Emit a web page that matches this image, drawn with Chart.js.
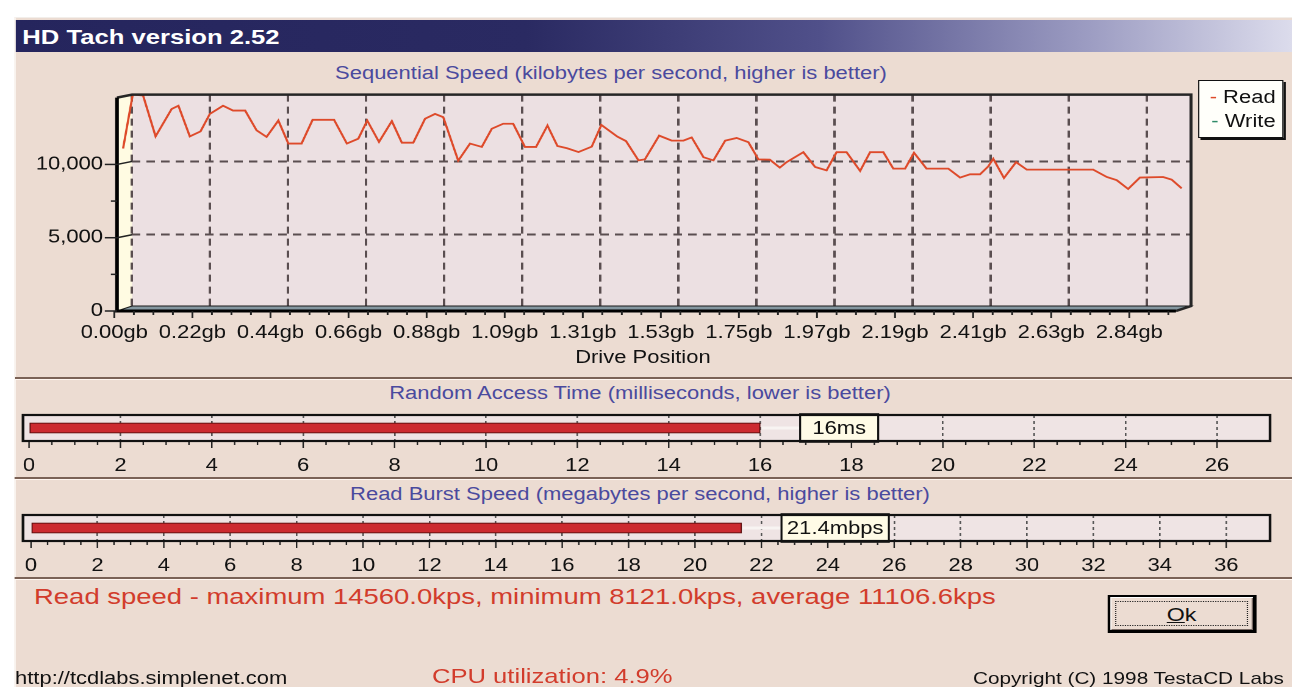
<!DOCTYPE html>
<html>
<head>
<meta charset="utf-8">
<script src="https://cdn.jsdelivr.net/npm/chart.js@4.4.1/dist/chart.umd.min.js"></script>
<style>
html,body{margin:0;padding:0;background:#ffffff;width:1292px;height:687px;overflow:hidden}
#stage{position:absolute;left:0;top:0;width:1059px;height:687px;transform:scaleX(1.22);transform-origin:0 0;font-family:"Liberation Sans",Arial,sans-serif;color:#111}
#win{position:absolute;left:12.3px;top:17px;width:1046.7px;height:670px;background:#ecdcd2;box-sizing:border-box;border-left:1px solid #faf6f2;border-top:1px solid #f2eeea}
#titlebar{position:absolute;left:12.8px;top:20px;width:1046.2px;height:32px;background:linear-gradient(90deg,#25255d 0%,#2a2a62 40%,#50508a 63%,#9c9cc2 84%,#dcdcec 100%)}
#titlebar span{position:absolute;left:5.5px;top:0;line-height:33px;font-weight:bold;font-size:21px;color:#ffffff;white-space:nowrap}
canvas{position:absolute;left:0}
.ptitle{position:absolute;width:700px;text-align:center;font-size:18px;line-height:20px;color:#4a4a9e;white-space:nowrap}
.sep{position:absolute;left:12.3px;width:1046.7px;height:0;border-top:2px solid #7a6256;border-bottom:1px solid #fff6f0}
#legend{position:absolute;left:982px;top:80px;width:69.6px;height:58px;box-sizing:border-box;background:#fffffa;border:1px solid #111;box-shadow:2px 2px 0 #111;font-size:18px;line-height:24px;text-align:right;padding:4px 5px 0 0;color:#111;white-space:nowrap}
#drivepos{position:absolute;left:377px;top:347px;width:300px;text-align:center;font-size:18px;line-height:20px;color:#111}
#stats{position:absolute;left:27.9px;top:585px;font-size:22.5px;line-height:24px;color:#d23c2c;white-space:nowrap}
#okbtn{position:absolute;left:908px;top:595px;width:122px;height:38px;box-sizing:border-box;border:2px solid #000;border-right-width:3px;border-bottom-width:3px;background:#ecdcd2;box-shadow:inset 1px 1px 0 #fff,inset -1px -1px 0 #7a6a64}
#okbtn .focus{position:absolute;left:4px;top:4px;right:4px;bottom:4px;border:1px dotted #222;text-align:center;font-size:19px;line-height:25px;color:#111}
#url{position:absolute;left:12.3px;top:668px;font-size:18px;line-height:20px;color:#111;white-space:nowrap}
#cpu{position:absolute;left:354px;top:664px;font-size:21px;line-height:24px;color:#d23c2c;white-space:nowrap}
#copy{position:absolute;left:797.5px;top:669px;font-size:17px;line-height:20px;color:#111;white-space:nowrap}
</style>
</head>
<body>
<div id="stage">
  <div id="win"></div>
  <div id="titlebar"><span>HD Tach version 2.52</span></div>
  <div class="ptitle" style="left:150.8px;top:63px">Sequential Speed (kilobytes per second, higher is better)</div>
  <canvas id="seq" style="top:60px;width:1059px;height:318px"></canvas>
  <div id="legend"></div>
  <div id="drivepos">Drive Position</div>
  <div class="sep" style="top:377px"></div>
  <div class="ptitle" style="left:174.6px;top:383px">Random Access Time (milliseconds, lower is better)</div>
  <canvas id="acc" style="top:405px;width:1059px;height:72px"></canvas>
  <div class="sep" style="top:477px"></div>
  <div class="ptitle" style="left:174.6px;top:484px">Read Burst Speed (megabytes per second, higher is better)</div>
  <canvas id="burst" style="top:505px;width:1059px;height:72px"></canvas>
  <div class="sep" style="top:577px"></div>
  <div id="stats"></div>
  <div id="okbtn"><div class="focus"><u>O</u>k</div></div>
  <div id="url">http://tcdlabs.simplenet.com</div>
  <div id="cpu"></div>
  <div id="copy">Copyright (C) 1998 TestaCD Labs</div>
</div>
<script>
// ---------- data ----------
const positionsGb = [-0.025,0.002,0.031,0.066,0.111,0.130,0.162,0.192,0.218,0.255,
  0.283,0.317,0.349,0.377,0.410,0.438,0.475,0.506,0.566,0.602,
  0.634,0.659,0.692,0.728,0.756,0.788,0.821,0.849,0.872,0.914,
  0.947,0.980,1.008,1.040,1.068,1.101,1.132,1.164,1.192,1.219,
  1.251,1.288,1.315,1.360,1.384,1.419,1.437,1.477,1.512,1.545,
  1.568,1.601,1.629,1.662,1.694,1.727,1.755,1.787,1.815,1.834,
  1.881,1.914,1.946,1.974,2.002,2.040,2.068,2.105,2.133,2.166,
  2.191,2.226,2.287,2.320,2.348,2.376,2.399,2.413,2.443,2.477,
  2.507,2.693,2.731,2.759,2.791,2.824,2.889,2.913,2.941];
const readKbps = [10880,14560,14500,11710,13580,13800,11710,12050,13240,13800,
  13470,13470,12120,11670,12790,11220,11220,12840,12840,11220,
  11550,12790,11330,12750,11280,11280,12910,13240,13020,10050,
  11220,10990,12230,12570,12570,10990,10990,12450,11050,10900,
  10640,11010,12490,11690,11390,10070,10140,11760,11420,11420,
  11640,10290,10070,11420,11600,11310,10140,10120,9580,9950,
  10630,9620,9390,10630,10630,9350,10630,10630,9510,9510,
  10590,9510,9510,8900,9120,9120,9660,10180,8870,9950,
  9440,9440,8940,8720,8121,8900,8940,8760,8160];
const writeKbps = [];
const seriesNames = ['Read','Write'];
const xTickValues = [0,0.21875,0.4375,0.65625,0.875,1.09375,1.3125,1.53125,1.75,1.96875,2.1875,2.40625,2.625,2.84375];
const xTickLabels = ['0.00gb','0.22gb','0.44gb','0.66gb','0.88gb','1.09gb','1.31gb','1.53gb','1.75gb','1.97gb','2.19gb','2.41gb','2.63gb','2.84gb'];
const yTickValues = [0,5000,10000];
const yTickLabels = ['0','5,000','10,000'];
const accessMs = [16];
const accessTicks = [0,2,4,6,8,10,12,14,16,18,20,22,24,26];
const burstMbps = [21.4];
const burstTicks = [0,2,4,6,8,10,12,14,16,18,20,22,24,26,28,30,32,34,36];
const readStats = [14560.0, 8121.0, 11106.6];
const cpuPercent = [4.9];

// ---------- styles ----------
const FONT = '"Liberation Sans", Arial, sans-serif';
Chart.defaults.font.family = FONT;
const READ_COLOR = '#de4a2a', WRITE_COLOR = '#2e8a68';
const PLOT_BG = '#ece0e2', WALL = '#fffbe2', FLOOR = '#8497a0', GRID = '#5a4e50';
const BOX_BG = '#efe4e4', BAR_RED = '#cc2a30';
const DX = 12.3, DY = 3, LAB_SHIFT = 14.5;

document.getElementById('stats').textContent =
  'Read speed - maximum ' + readStats[0].toFixed(1) + 'kps, minimum ' + readStats[1].toFixed(1) +
  'kps, average ' + readStats[2].toFixed(1) + 'kps';
document.getElementById('cpu').textContent = 'CPU utilization: ' + cpuPercent[0] + '%';

function seg(ctx, x1, y1, x2, y2){ ctx.beginPath(); ctx.moveTo(x1,y1); ctx.lineTo(x2,y2); ctx.stroke(); }

const frame3d = {
  id: 'frame3d',
  beforeDraw(chart){
    const {ctx, chartArea:a} = chart;
    ctx.save();
    ctx.fillStyle = PLOT_BG;
    ctx.fillRect(a.left, a.top, a.right-a.left, a.bottom-a.top);
    ctx.fillStyle = WALL;
    ctx.beginPath();
    ctx.moveTo(a.left-DX, a.top+DY); ctx.lineTo(a.left, a.top);
    ctx.lineTo(a.left, a.bottom); ctx.lineTo(a.left-DX, a.bottom+DY);
    ctx.closePath(); ctx.fill();
    ctx.restore();
  },
  afterDraw(chart){
    const {ctx, chartArea:a, scales:{x, y}} = chart;
    ctx.save();
    // floor
    ctx.fillStyle = FLOOR;
    ctx.beginPath();
    ctx.moveTo(a.left, a.bottom-2); ctx.lineTo(a.right, a.bottom-2);
    ctx.lineTo(a.right-DX, a.bottom+DY); ctx.lineTo(a.left-DX, a.bottom+DY);
    ctx.closePath(); ctx.fill();
    ctx.strokeStyle = '#1a1a1a'; ctx.lineWidth = 1; ctx.stroke();
    // back frame top and right
    ctx.strokeStyle = '#262626'; ctx.lineWidth = 2.5;
    ctx.beginPath();
    ctx.moveTo(a.left-DX, a.top+DY); ctx.lineTo(a.left, a.top); ctx.lineTo(a.right, a.top);
    ctx.lineTo(a.right, a.bottom-2); ctx.lineTo(a.right-DX, a.bottom+DY);
    ctx.stroke();
    // front axes
    ctx.strokeStyle = '#000'; ctx.lineWidth = 3;
    ctx.beginPath();
    ctx.moveTo(a.left-DX, a.top+DY); ctx.lineTo(a.left-DX, a.bottom+DY); ctx.lineTo(a.right-DX, a.bottom+DY);
    ctx.stroke();
    // y ticks
    ctx.lineWidth = 1.5; ctx.strokeStyle = '#222';
    yTickValues.forEach((v, i) => {
      const py = y.getPixelForValue(v) + DY;
      seg(ctx, a.left-DX-10, py, a.left-DX, py);
      if (v > 0) seg(ctx, a.left-DX, py, a.left, py-DY);
      if (i < yTickValues.length - 1) {
        const pm = y.getPixelForValue((v + yTickValues[i+1]) / 2) + DY;
        seg(ctx, a.left-DX-5, pm, a.left-DX, pm);
      }
    });
    // x ticks on the front axis
    const fy = a.bottom + DY;
    const step = xTickValues[1] - xTickValues[0];
    for (let k = 0; ; k++) {
      const v = k * step / 4;
      const px = x.getPixelForValue(v) - LAB_SHIFT;
      if (px > a.right - DX) break;
      seg(ctx, px, fy, px, fy + (k % 4 === 0 ? 7 : 4));
    }
    ctx.restore();
  }
};

new Chart(document.getElementById('seq'), {
  type: 'line',
  data: {
    datasets: [
      {label: seriesNames[0], data: positionsGb.map((g, i) => ({x: g, y: readKbps[i]})),
       borderColor: READ_COLOR, borderWidth: 1.8, pointRadius: 0, tension: 0, clip: false, fill: false},
      {label: seriesNames[1], data: writeKbps.map((v, i) => ({x: positionsGb[i], y: v})),
       borderColor: WRITE_COLOR, borderWidth: 1.8, pointRadius: 0, tension: 0, clip: false, fill: false}
    ]
  },
  options: {
    responsive: false, animation: false, devicePixelRatio: 2,
    layout: {padding: {top: 34, right: 82.8, left: 0, bottom: 0}},
    plugins: {legend: {display: false}, tooltip: {enabled: false}},
    scales: {
      x: {
        type: 'linear', min: 0, max: 2.967,
        afterFit(s){ s.height = 70; },
        afterBuildTicks(s){ s.ticks = xTickValues.map(v => ({value: v})); },
        ticks: {callback: (v, i) => xTickLabels[i], labelOffset: -LAB_SHIFT, padding: 14.2,
                font: {size: 18}, color: '#111', maxRotation: 0, minRotation: 0, autoSkip: false},
        grid: {color: GRID, lineWidth: 2, drawTicks: false},
        border: {display: false, dash: [7, 5]}
      },
      y: {
        min: 0, max: 14560,
        afterFit(s){ s.width = 108.2; },
        afterBuildTicks(s){ s.ticks = yTickValues.map(v => ({value: v})); },
        ticks: {callback: (v, i) => yTickLabels[i], padding: 23.8, labelOffset: 3,
                font: {size: 18}, color: '#111'},
        grid: {color: c => (c.tick && c.tick.value === 0) ? 'rgba(0,0,0,0)' : GRID, lineWidth: 2, drawTicks: false},
        border: {display: false, dash: [7, 5]}
      }
    }
  },
  plugins: [frame3d]
});

// legend built from the series
const leg = document.getElementById('legend');
[[seriesNames[0], READ_COLOR], [seriesNames[1], WRITE_COLOR]].forEach(([n, c]) => {
  const d = document.createElement('div');
  d.innerHTML = '<span style="color:' + c + '">-</span> ' + n;
  leg.appendChild(d);
});

function gaugePlugin(unit, boxW, tickVals){
  return {
    id: 'gauge' + unit,
    beforeDraw(chart){
      const {ctx, chartArea:a} = chart;
      ctx.save(); ctx.fillStyle = BOX_BG;
      ctx.fillRect(a.left, a.top, a.right-a.left, a.bottom-a.top);
      ctx.restore();
    },
    afterDraw(chart){
      const {ctx, chartArea:a, scales:{x}} = chart;
      const bar = chart.getDatasetMeta(0).data[0];
      const v = chart.data.datasets[0].data[0];
      ctx.save();
      // leader line
      const boxL = bar.x + 32.8;
      ctx.strokeStyle = '#f8f4f2'; ctx.lineWidth = 3;
      seg(ctx, bar.x + 1, bar.y, boxL, bar.y);
      // value box
      ctx.fillStyle = '#fffbe6';
      ctx.fillRect(boxL, a.top - 1, boxW, a.bottom - a.top + 2);
      ctx.strokeStyle = '#111'; ctx.lineWidth = 1.6;
      ctx.strokeRect(boxL, a.top - 1, boxW, a.bottom - a.top + 2);
      ctx.fillStyle = '#111'; ctx.font = '18px ' + FONT;
      ctx.textAlign = 'center'; ctx.textBaseline = 'middle';
      ctx.fillText(v + unit, boxL + boxW/2, (a.top + a.bottom)/2 + 1);
      // outer box
      ctx.lineWidth = 2.2; ctx.strokeStyle = '#111';
      ctx.strokeRect(a.left, a.top, a.right-a.left, a.bottom-a.top);
      // ticks below the box
      ctx.lineWidth = 1.2; ctx.strokeStyle = '#222';
      const last = tickVals[tickVals.length-1];
      for (let t = 0; t <= last + 0.01; t += 0.5) {
        const px = x.getPixelForValue(t);
        const major = Math.abs(t/2 - Math.round(t/2)) < 1e-6;
        seg(ctx, px, a.bottom + 1, px, a.bottom + (major ? 7 : 4));
      }
      ctx.restore();
    }
  };
}

function gauge(id, label, values, tickVals, min, max, unit, boxW){
  return new Chart(document.getElementById(id), {
    type: 'bar',
    data: {labels: [label], datasets: [{data: values, backgroundColor: BAR_RED, borderColor: '#5c0e0e',
           borderWidth: 1, borderSkipped: false, barThickness: 10}]},
    options: {
      indexAxis: 'y', responsive: false, animation: false, devicePixelRatio: 2,
      layout: {padding: {left: 18.85, right: 18, top: 10, bottom: 0}},
      plugins: {legend: {display: false}, tooltip: {enabled: false}},
      scales: {
        y: {display: false},
        x: {
          type: 'linear', min: min, max: max,
          afterFit(s){ s.height = 36; },
          afterBuildTicks(s){ s.ticks = tickVals.map(v => ({value: v})); },
          ticks: {padding: 14.2, font: {size: 18}, color: '#111', maxRotation: 0, autoSkip: false},
          grid: {drawTicks: false, color: c => (c.tick && c.tick.value === 0) ? 'rgba(0,0,0,0)' : '#555', lineWidth: 1.3},
          border: {display: false, dash: [3, 3]}
        }
      }
    },
    plugins: [gaugePlugin(unit, boxW, tickVals)]
  });
}

gauge('acc', 'Random Access Time', accessMs, accessTicks, -0.132, 27.16, 'ms', 64);
gauge('burst', 'Read Burst Speed', burstMbps, burstTicks, -0.241, 37.32, 'mbps', 88);
</script>
</body>
</html>
